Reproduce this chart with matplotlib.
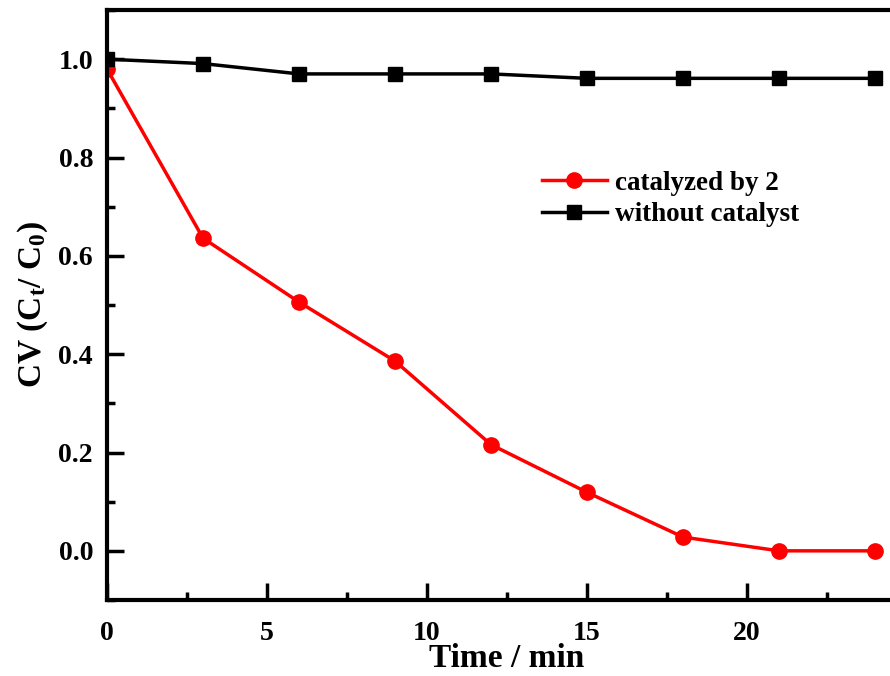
import matplotlib
matplotlib.use('Agg')
import matplotlib.pyplot as plt
from matplotlib.ticker import MultipleLocator

# data
time_min = [0, 3, 6, 9, 12, 15, 18, 21, 24]
catalyzed = [0.98, 0.636, 0.506, 0.386, 0.216, 0.119, 0.028, 0.0, 0.0]
no_catalyst = [1.0, 0.991, 0.970, 0.970, 0.970, 0.961, 0.961, 0.961, 0.961]
x_ticks = [0, 5, 10, 15, 20]
y_ticks = [0.0, 0.2, 0.4, 0.6, 0.8, 1.0]

plt.rcParams['font.family'] = 'Liberation Serif'
plt.rcParams['font.weight'] = 'bold'
plt.rcParams['mathtext.fontset'] = 'custom'
plt.rcParams['mathtext.rm'] = 'Liberation Serif:bold'
plt.rcParams['mathtext.bf'] = 'Liberation Serif:bold'
plt.rcParams['mathtext.it'] = 'Liberation Serif:italic:bold'

fig = plt.figure(figsize=(8.9, 6.76), dpi=100)
# right spine runs off the image in the reference
ax = fig.add_axes([107 / 890, 76 / 676, 800 / 890, 590 / 676])

ax.plot(time_min, catalyzed, color='red', marker='o', markersize=11,
        linewidth=2.5, label='catalyzed by 2')
ax.plot(time_min, no_catalyst, color='black', marker='s', markersize=9.5,
        linewidth=2.5, label='without catalyst')

ax.set_xlim(0, 25)
ax.set_ylim(-0.1, 1.1)
ax.set_xticks(x_ticks)
ax.set_yticks(y_ticks)
ax.set_yticklabels([f'{v:.1f}' for v in y_ticks])
ax.xaxis.set_minor_locator(MultipleLocator(2.5))
ax.yaxis.set_minor_locator(MultipleLocator(0.1))

for s in ax.spines.values():
    s.set_linewidth(3)
ax.tick_params(which='major', direction='in', length=12, width=2.5,
               labelsize=20)
ax.tick_params(axis='x', which='major', pad=15)
ax.tick_params(axis='y', which='major', pad=10)
ax.tick_params(which='minor', direction='in', length=6, width=2.5)
ax.tick_params(top=False, right=False, which='both')

ax.set_xlabel('Time / min', fontsize=24, fontweight='bold', labelpad=-2)
ax.set_ylabel(r'CV (C$_{\mathrm{t}}$/ C$_{\mathrm{0}}$)', fontsize=24,
              fontweight='bold', labelpad=6)

ax.legend(loc='upper left', bbox_to_anchor=(0.53, 0.746), frameon=False,
          fontsize=19.5, handlelength=2.4, handletextpad=0.3, labelspacing=0.25,
          borderaxespad=0)

fig.savefig('out.png', dpi=100)
